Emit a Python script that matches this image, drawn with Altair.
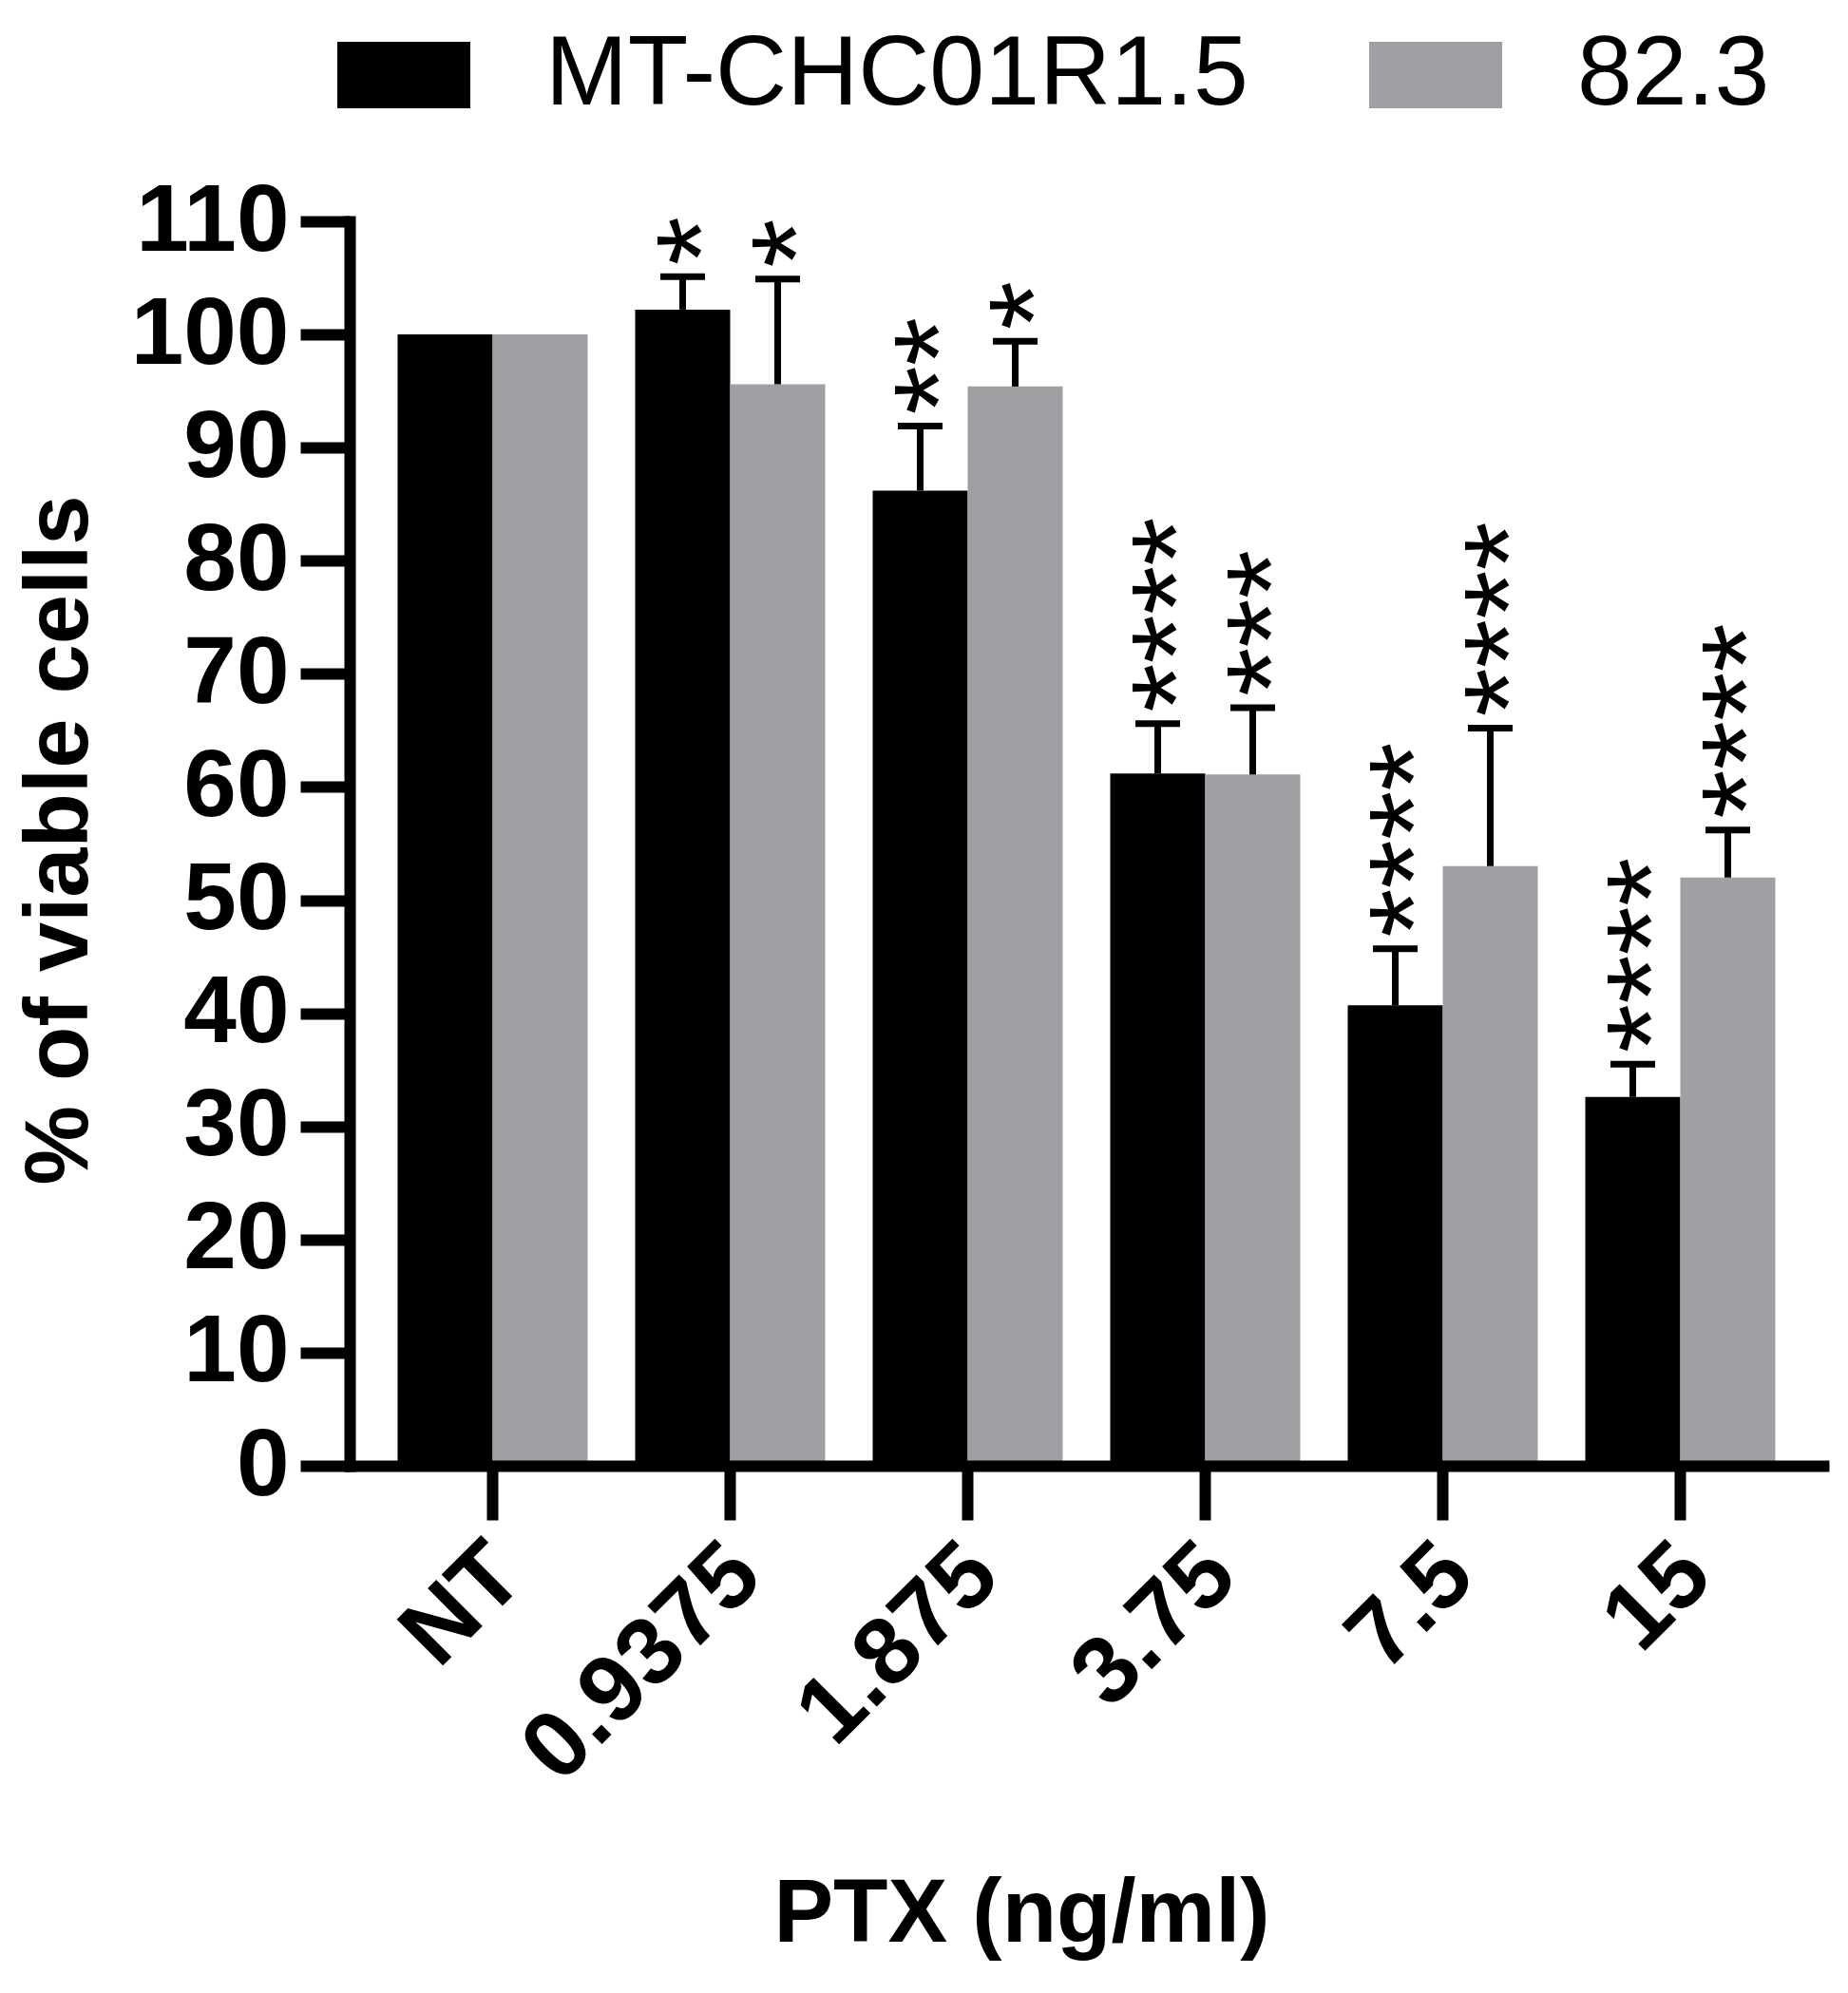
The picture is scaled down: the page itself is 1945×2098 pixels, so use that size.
import altair as alt
import pandas as pd

categories = ["NT", "0.9375", "1.875", "3.75", "7.5", "15"]
series = ["MT-CHC01R1.5", "82.3"]
colors = ["#000000", "#a09fa4"]

mt_values = [100, 102.2, 86.2, 61.2, 40.7, 32.6]
mt_sem = [0, 2.9, 5.7, 4.4, 5.0, 2.9]
mt_stars = ["", "*", "**", "****", "****", "****"]

r823_values = [100, 95.6, 95.4, 61.1, 53.0, 52.0]
r823_sem = [0, 9.3, 4.0, 5.9, 12.2, 4.2]
r823_stars = ["", "*", "*", "***", "****", "****"]

y_ticks = list(range(0, 111, 10))

rows = []
for s, vals, sems, stars in [
    (series[0], mt_values, mt_sem, mt_stars),
    (series[1], r823_values, r823_sem, r823_stars),
]:
    for c, v, e, st in zip(categories, vals, sems, stars):
        rows.append(dict(dose=c, series=s, value=v, sem=e, top=v + e, stars=st))
df = pd.DataFrame(rows)

FONT = "Liberation Sans"

x_enc = alt.X(
    "dose:N",
    sort=categories,
    scale=alt.Scale(paddingInner=0.2, paddingOuter=0.202),
    axis=alt.Axis(
        title="PTX (ng/ml)",
        titleFont=FONT,
        titleFontSize=94,
        titleFontWeight="bold",
        titleColor="black",
        titleX=707,
        titleY=500,
        titleAlign="center",
        titleBaseline="alphabetic",
        labelFont=FONT,
        labelFontSize=100,
        labelFontWeight="bold",
        labelColor="black",
        labelAngle=-45,
        labelAlign="right",
        labelBaseline="middle",
        labelPadding=42,
        labelOffset=16,
        labelLimit=1000,
        labelOverlap=False,
        tickSize=57,
        tickWidth=12,
        tickColor="black",
        domainWidth=12,
        domainColor="black",
        domainCap="square",
        zindex=1,
    ),
)
xo_enc = alt.XOffset("series:N", sort=series, scale=alt.Scale(paddingInner=0, paddingOuter=0))

y_scale = alt.Scale(domain=[0, 110], nice=False, zero=True)
y_axis = alt.Axis(
    title="% of viable cells",
    titleFont=FONT,
    titleFontSize=94,
    titleFontWeight="bold",
    titleColor="black",
    titleAngle=270,
    titleX=-277,
    titleY=651,
    titleAlign="center",
    titleBaseline="alphabetic",
    values=y_ticks,
    labelFont=FONT,
    labelFontSize=100,
    labelFontWeight="bold",
    labelColor="black",
    labelPadding=12,
    labelBaseline="middle",
    tickSize=52,
    tickWidth=12,
    tickColor="black",
    domainWidth=12,
    domainColor="black",
    domainCap="square",
    grid=False,
    zindex=1,
)

bars = alt.Chart(df).mark_bar().encode(
    x=x_enc,
    xOffset=xo_enc,
    y=alt.Y("value:Q", scale=y_scale, axis=y_axis),
    color=alt.Color(
        "series:N",
        sort=series,
        scale=alt.Scale(domain=series, range=colors),
        legend=alt.Legend(
            title=None,
            orient="none",
            legendX=5,
            legendY=-206,
            direction="horizontal",
            symbolType="M-2,-1H2V1H-2Z",
            symbolSize=4900,
            symbolStrokeWidth=0,
            symbolOpacity=1,
            labelFont=FONT,
            labelFontSize=104,
            labelColor="black",
            labelOffset=97,
            columnPadding=127,
            labelLimit=2000,
        ),
    ),
)

err = alt.Chart(df).transform_filter("datum.sem > 0")

stems = err.mark_rule(color="black", strokeWidth=7).encode(
    x=x_enc, xOffset=xo_enc, y=alt.Y("value:Q", scale=y_scale), y2="top:Q"
)
caps = err.mark_tick(color="black", size=47, thickness=7, opacity=1).encode(
    x=x_enc, xOffset=xo_enc, y=alt.Y("top:Q", scale=y_scale)
)
stars = alt.Chart(df).transform_filter("datum.stars != ''").mark_text(
    font=FONT, fontSize=132, angle=270, align="left", baseline="alphabetic",
    dx=12, dy=64, color="black"
).encode(
    x=x_enc, xOffset=xo_enc, y=alt.Y("top:Q", scale=y_scale), text="stars:N"
)

chart = (
    alt.layer(bars, stems, caps, stars)
    .properties(
        width=1551,
        height=1310,
        autosize=alt.AutoSizeParams(type="none"),
        padding={"left": 360, "top": 225, "right": 18, "bottom": 547},
        background="white",
    )
    .configure_view(strokeWidth=0)
)

chart.save("out.html", embed_options={"renderer": "svg", "actions": False})
